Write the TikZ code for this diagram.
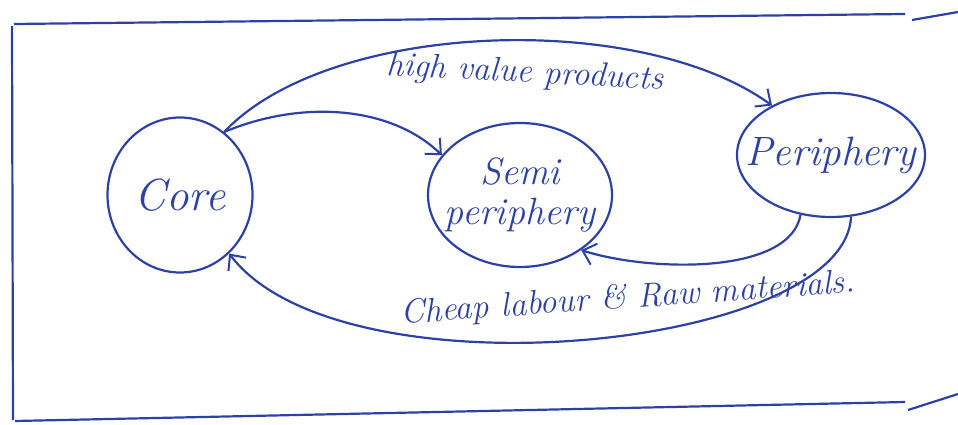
\documentclass[tikz,border=0pt]{standalone}
\usetikzlibrary{shapes.geometric,arrows.meta}
\definecolor{ink}{RGB}{45,65,165}
\begin{document}
\begin{tikzpicture}[x=1pt,y=-1pt,
  every path/.style={line width=2.2pt},
  blob/.style={ellipse,draw=ink,line width=2.2pt,inner sep=0pt},
  blobtext/.style={text=ink,align=center,font=\fontsize{#1}{40}\selectfont\itshape},
  flow/.style={draw=ink,line width=2.2pt,-{Straight Barb[length=12pt,width=22pt,line width=2pt]}},
  lbl/.style={text=ink,font=\fontsize{34}{38}\selectfont\itshape}]
\useasboundingbox (0,0) rectangle (958,425);
% frame
\draw[ink] (14,24) -- (905,14);
\draw[ink] (912,20) -- (958,12);
\draw[ink] (12,26) -- (13,420);
\draw[ink] (15,421) -- (905,402);
\draw[ink] (908,410) -- (958,394);
% nodes
\node[blob,minimum width=145pt,minimum height=155pt,
  label={[blobtext=45]center:Core}] (core) at (180,195) {};
\node[blob,minimum width=184pt,minimum height=144pt,
  label={[blobtext=38]center:Semi\\periphery}] (semi) at (520,195) {};
\node[blob,minimum width=188pt,minimum height=124pt,
  label={[blobtext=41]center:Periphery}] (peri) at (831,155) {};
% connectors
\draw[flow] (core.55) .. controls (300,100) and (390,105) .. (semi.153);
\draw[flow] (core.55) .. controls (330,20) and (640,10) .. (peri.140);
\draw[flow] (peri.-117) .. controls (790,275) and (650,272) .. (semi.-42);
\draw[flow] (peri.-72) .. controls (845,350) and (340,400) .. (core.-50);
% labels
\node[lbl,rotate=-3] (hv) at (525,74) {high value products};
\node[lbl,rotate=4] (cl) at (628,299) {Cheap labour \& Raw materials.};
\end{tikzpicture}
\end{document}
